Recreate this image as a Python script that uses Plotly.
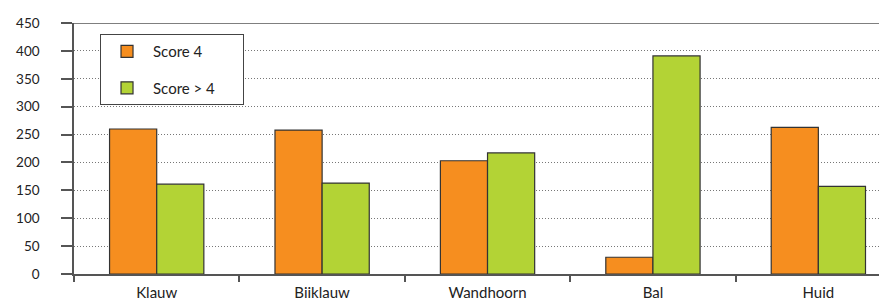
import plotly.graph_objects as go

categories = ["Klauw", "Biiklauw", "Wandhoorn", "Bal", "Huid"]
score_4 = [260, 258, 203, 30, 263]
score_gt4 = [161, 163, 217, 391, 157]
series_names = ["Score 4", "Score > 4"]
y_ticks = [0, 50, 100, 150, 200, 250, 300, 350, 400, 450]

ORANGE = "#F68E1F"
GREEN = "#B3D335"
EDGE = "#333333"
AXIS = "#555555"
FONT = "Lato, 'Open Sans', sans-serif"
PAD = "\u00a0" * 6

fig = go.Figure()
fig.add_trace(go.Bar(x=categories, y=score_4, name=series_names[0] + PAD,
                     marker=dict(color=ORANGE, line=dict(color=EDGE, width=1.2)),
                     legendgroup="a"))
fig.add_trace(go.Bar(x=categories, y=score_gt4, name=series_names[1] + PAD,
                     marker=dict(color=GREEN, line=dict(color=EDGE, width=1.2)),
                     legendgroup="b"))

# page body has an 8px margin, so the figure is sized to fill 887x300 from (8,8)
fig.update_layout(
    width=879, height=292,
    margin=dict(l=66, r=0, t=15, b=26),
    paper_bgcolor="white", plot_bgcolor="white",
    barmode="group", bargap=0.43, bargroupgap=0,
    font=dict(family=FONT, size=13, color="#222"),
    showlegend=True,
    legend=dict(x=0.032, y=0.956, xanchor="left", yanchor="top",
                bgcolor="white", bordercolor="#444", borderwidth=1,
                font=dict(size=15, color="#222"), tracegroupgap=14,
                itemwidth=42, traceorder="grouped"),
    xaxis=dict(range=[-0.5, 4.415], showline=True, linecolor=AXIS, linewidth=1.5,
               ticks="outside", tickson="boundaries", ticklen=6, tickcolor=AXIS,
               tickwidth=1.5, showgrid=False, tickfont=dict(size=15, color="#222"),
               automargin=False, ticklabelstandoff=4, fixedrange=True),
    yaxis=dict(range=[0, 450], tickvals=y_ticks, showline=True, linecolor=AXIS,
               linewidth=1.5, ticks="outside", ticklen=11, tickcolor=AXIS,
               tickwidth=1.5, showgrid=True, gridcolor="#777", griddash="1px,2px",
               gridwidth=1, zeroline=False, ticklabelstandoff=19, automargin=False,
               tickfont=dict(size=13.5, color="#222")),
)
fig.add_shape(type="line", xref="paper", yref="y", x0=0, x1=1, y0=450, y1=450,
              line=dict(color=AXIS, width=1.5))

fig.write_html("out.html")
